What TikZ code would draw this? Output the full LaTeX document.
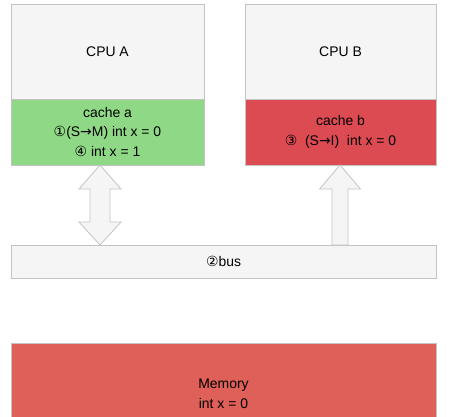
\documentclass[tikz,border=0pt]{standalone}
\usepackage{fontspec}
\setmainfont{Liberation Sans}
\newfontfamily\symfont{DejaVu Sans}
\usetikzlibrary{calc}
\definecolor{boxgrey}{RGB}{245,245,245}
\definecolor{boxline}{RGB}{195,195,195}
\definecolor{cachegreen}{RGB}{143,216,133}
\definecolor{cachered}{RGB}{220,74,82}
\definecolor{memred}{RGB}{222,96,88}
\newcommand{\sy}[1]{{\symfont #1}}
\begin{document}
\begin{tikzpicture}[x=1bp,y=1bp,
  blk/.style={draw=boxline,line width=0.8bp,inner sep=0pt,outer sep=0pt,align=center,
    font=\fontsize{14}{20}\selectfont},
  blockarrow/.style={draw=boxline,fill=boxgrey,line width=0.8bp,line join=miter}]
\useasboundingbox (0,0) rectangle (473,416);
% CPU A
\node[blk,fill=boxgrey,minimum width=193bp,minimum height=94.5bp,anchor=north west] (cpua) at (11,411.5) {CPU A};
\node[blk,fill=cachegreen,minimum width=193bp,minimum height=66bp,anchor=north west] (cachea) at (cpua.south west)
  {cache a\\ \sy{①}(S\sy{→}M) int x = 0\\ \sy{④} int x = 1};
% CPU B
\node[blk,fill=boxgrey,minimum width=191bp,minimum height=94.5bp,anchor=north west] (cpub) at (245,411.5) {CPU B};
\node[blk,fill=cachered,minimum width=191bp,minimum height=66bp,anchor=north west] (cacheb) at (cpub.south west)
  {cache b\\ \sy{③}\ \ (S\sy{→}I)\ \ int x = 0};
% bus
\node[blk,fill=boxgrey,minimum width=425bp,minimum height=33bp,anchor=north west] (bus) at (11,171) {\sy{②}bus};
% memory
\node[blk,fill=memred,minimum width=425bp,minimum height=90bp,anchor=north west] (mem) at (11,73) {};
\node[font=\fontsize{14}{20}\selectfont,align=center] (memtext) at (223.5,22) {Memory\\int x = 0};
% double arrow between cache a and bus
\coordinate (atop) at (100,251);
\coordinate (abot) at (100,171);
\draw[blockarrow] (atop) -- ++(21,-24) -- ++(-11,0) -- ($(abot)+(10,23)$) -- ++(11,0)
  -- (abot) -- ++(-21,23) -- ++(11,0) -- ($(atop)+(-10,-24)$) -- ++(-11,0) -- cycle;
% single arrow from bus up to cache b
\coordinate (btop) at (340,251);
\coordinate (bbot) at (340,171);
\draw[blockarrow] (btop) -- ++(20.5,-24) -- ++(-12.5,0) -- ($(bbot)+(8,0)$) -- ($(bbot)+(-8,0)$)
  -- ($(btop)+(-8,-24)$) -- ++(-12.5,0) -- cycle;
\end{tikzpicture}
\end{document}
